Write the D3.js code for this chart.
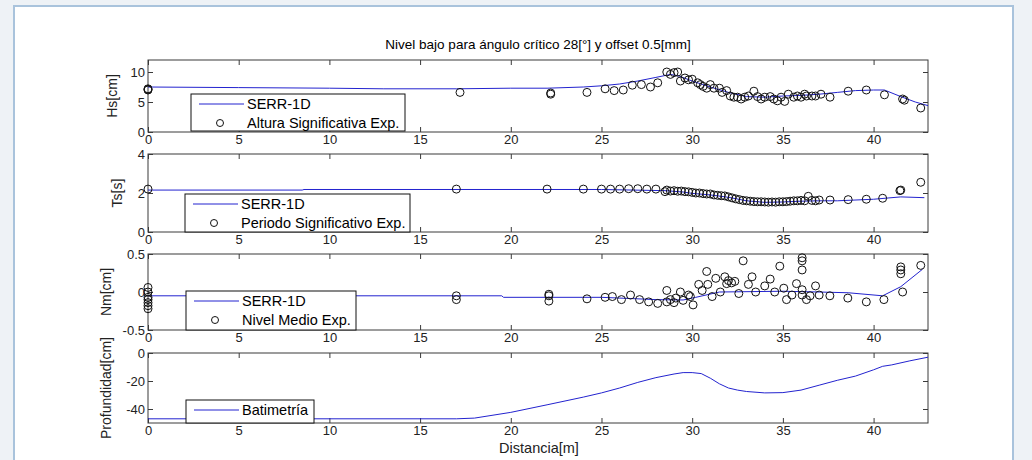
<!DOCTYPE html>
<html lang="es">
<head>
<meta charset="UTF-8">
<title>Nivel bajo para ángulo crítico 28</title>
<script src="https://d3js.org/d3.v7.min.js"></script>
<style>
  body { margin: 0; background: #eef2f6; }
  svg { display: block; }
  text { font-family: "Liberation Sans", Arial, sans-serif; }
</style>
</head>
<body>
<div id="chart"></div>
<script>
const width = 1032, height = 460;

// distance axis
const xDomain = [0, 43];
const xTicks = [0, 5, 10, 15, 20, 25, 30, 35, 40];

// Hs panel
const hsModel = [[0,7.5],[5,7.4],[10,7.3],[13,7.2],[17,7.2],[20,7.3],[22,7.3],[24,7.5],[25,7.7],[26,8.0],[27,8.5],[28,9.1],[28.8,9.6],[29.3,9.3],[30,8.5],[31,7.5],[32,6.6],[33,5.9],[34,5.8],[35,6.0],[36,6.1],[37,6.3],[38,6.6],[39,6.9],[40,7.0],[40.6,7.0],[41.5,5.9],[42.3,5.0],[43,4.4]];
const hsExp = [[0,7.0],[0,7.1],[0,7.2],[17.2,6.6],[22.2,6.3],[22.2,6.5],[24.2,6.6],[25.2,7.2],[25.7,6.9],[26.2,7.0],[26.7,7.8],[27.2,7.9],[27.7,7.5],[28.1,8.2],[28.6,10.0],[28.8,9.6],[29.0,9.9],[29.2,10.0],[29.35,8.5],[29.6,9.0],[29.8,8.7],[30.0,8.8],[30.3,8.2],[30.45,7.9],[30.6,7.6],[30.8,7.3],[31.0,7.9],[31.2,7.3],[31.5,7.3],[31.65,6.6],[31.9,6.9],[32.1,6.0],[32.3,5.8],[32.5,5.8],[32.7,5.5],[32.9,5.8],[33.1,6.0],[33.4,6.8],[33.6,5.9],[33.8,5.5],[34.0,5.8],[34.3,5.9],[34.5,5.5],[34.7,5.2],[34.9,5.8],[35.1,5.1],[35.3,6.3],[35.6,5.8],[35.8,6.0],[36.0,5.8],[36.2,6.3],[36.3,6.0],[36.6,6.0],[36.8,6.0],[37.1,6.3],[37.6,5.8],[38.6,6.8],[39.6,7.0],[40.6,6.2],[41.6,5.5],[41.7,5.3],[42.6,4.0]];

// Ts panel
const tsModel = [[0,2.15],[8.5,2.15],[8.6,2.18],[25,2.18],[28.5,2.12],[29.5,2.05],[30,1.98],[31,1.9],[32,1.78],[33,1.6],[34,1.52],[35,1.54],[36,1.58],[37,1.6],[38,1.6],[40,1.68],[41.5,1.8],[42.8,1.76]];
const tsExp = [[0,2.2],[17,2.2],[22,2.2],[24,2.2],[25,2.2],[25.5,2.2],[26,2.2],[26.5,2.22],[27,2.22],[27.5,2.2],[28,2.2],[28.5,2.07],[28.6,2.15],[28.8,2.1],[29.0,2.12],[29.2,2.09],[29.4,2.1],[29.6,2.07],[29.8,2.06],[30.0,2.03],[30.2,2.0],[30.4,2.0],[30.6,1.97],[30.8,1.95],[31.0,1.95],[31.2,1.9],[31.4,1.88],[31.6,1.86],[31.8,1.85],[32.0,1.8],[32.2,1.75],[32.4,1.7],[32.6,1.66],[32.8,1.62],[33.0,1.6],[33.2,1.58],[33.4,1.56],[33.6,1.55],[33.8,1.55],[34.0,1.54],[34.2,1.53],[34.4,1.54],[34.6,1.53],[34.8,1.55],[35.0,1.55],[35.2,1.56],[35.4,1.58],[35.6,1.6],[35.8,1.6],[36.0,1.62],[36.2,1.6],[36.4,1.83],[36.6,1.62],[36.8,1.6],[37.0,1.64],[37.6,1.64],[38.6,1.66],[39.6,1.68],[40.5,1.73],[41.45,2.12],[41.5,2.15],[42.6,2.55]];

// Nm panel
const nmModel = [[0,-0.05],[19.5,-0.05],[19.6,-0.07],[25,-0.07],[28,-0.1],[29.5,-0.105],[30.2,-0.07],[31.5,0],[35,0.01],[37,0],[38.6,-0.01],[40.5,-0.05],[41.5,0.07],[42.7,0.3]];
const nmExp = [[0,0.06],[0,0.0],[0,-0.07],[0,-0.1],[0,-0.14],[0,-0.18],[0,-0.22],[17,-0.05],[17,-0.1],[22.1,-0.03],[22.1,-0.05],[22.1,-0.12],[24.2,-0.09],[25.2,-0.07],[25.6,-0.06],[26.1,-0.1],[26.6,-0.04],[27.1,-0.1],[27.6,-0.13],[28.1,-0.15],[28.6,0.02],[28.6,-0.13],[28.8,-0.1],[29.0,-0.14],[29.1,-0.08],[29.35,0.0],[29.5,-0.11],[29.8,-0.04],[29.9,-0.06],[30.05,-0.17],[30.36,0.1],[30.55,0.02],[30.8,0.27],[30.86,0.1],[31.1,-0.06],[31.3,0.18],[31.55,0.0],[31.8,0.2],[31.9,0.11],[32.0,0.15],[32.17,0.12],[32.35,0.14],[32.57,-0.02],[32.81,0.41],[33.1,0.1],[33.3,0.2],[33.5,0.0],[34.0,0.08],[34.3,0.17],[34.55,0.0],[34.83,0.34],[35.05,0.05],[35.2,-0.1],[35.5,-0.04],[35.75,0.11],[36.06,0.45],[36.06,0.41],[36.06,0.29],[36.06,0.03],[36.06,-0.04],[36.3,-0.1],[36.5,-0.05],[36.8,0.08],[37.0,-0.04],[37.59,-0.05],[38.58,-0.08],[39.6,-0.13],[40.57,-0.1],[41.5,0.33],[41.5,0.29],[41.5,0.24],[41.6,0.0],[42.6,0.35]];

// bathymetry
const depthModel = [[0,-47],[17,-47],[18,-46.5],[20,-42.4],[22,-37],[24,-31.5],[25,-28.5],[26,-25],[27,-21],[28,-17.6],[29,-15],[29.5,-14],[30,-14],[30.5,-14.7],[31,-18],[31.5,-22],[32,-25],[32.5,-26.5],[33,-27.5],[34,-28.5],[35,-28.3],[36,-26.5],[37,-23],[38,-19.5],[39,-16.5],[40,-12],[40.5,-9.5],[41,-8.5],[42,-5.6],[43,-3]];

const panels = [
  { top: 60, bottom: 132, domain: [0, 12], ticks: [0, 5, 10], label: "Hs[cm]", labelX: 112,
    line: hsModel, pts: hsExp, names: ["SERR-1D", "Altura Significativa Exp."],
    legend: { x: 191, y: 94, w: 214, h: 37 } },
  { top: 154, bottom: 232, domain: [0, 4], ticks: [0, 2, 4], label: "Ts[s]", labelX: 117,
    line: tsModel, pts: tsExp, names: ["SERR-1D", "Periodo Significativo Exp."],
    legend: { x: 185, y: 194, w: 225, h: 38 } },
  { top: 254, bottom: 330, domain: [-0.5, 0.5], ticks: [-0.5, 0, 0.5], label: "Nm[cm]", labelX: 106,
    line: nmModel, pts: nmExp, names: ["SERR-1D", "Nivel Medio Exp."],
    legend: { x: 186, y: 291, w: 170, h: 39 } },
  { top: 353, bottom: 423, domain: [-50, 0], ticks: [-40, -20, 0], label: "Profundidad[cm]", labelX: 106,
    line: depthModel, pts: null, names: ["Batimetría"],
    legend: { x: 186, y: 400, w: 128, h: 23 } }
];

const svg = d3.select("#chart").append("svg")
  .attr("width", width).attr("height", height);

svg.append("rect").attr("width", width).attr("height", height).attr("fill", "#eef2f6");
svg.append("rect")
  .attr("x", 14).attr("y", 6).attr("width", 999).attr("height", 470)
  .attr("fill", "#fff").attr("stroke", "#a9c3dc").attr("stroke-width", 2);

const x = d3.scaleLinear().domain(xDomain).range([148, 928]);
const blue = "#2323cf";
const fmt = d => String(d);

svg.append("text")
  .attr("x", 538).attr("y", 49)
  .attr("text-anchor", "middle")
  .style("font-size", "13.5px")
  .text("Nivel bajo para ángulo crítico 28[°] y offset 0.5[mm]");

panels.forEach(p => {
  const y = d3.scaleLinear().domain(p.domain).range([p.bottom, p.top]);
  const g = svg.append("g");

  g.append("rect")
    .attr("x", x.range()[0]).attr("y", p.top)
    .attr("width", x.range()[1] - x.range()[0]).attr("height", p.bottom - p.top)
    .attr("fill", "#fff").attr("stroke", "#3a3a3a");

  const styleAxis = sel => {
    sel.select(".domain").remove();
    sel.selectAll("line").attr("stroke", "#3a3a3a");
    sel.selectAll("text").style("font-size", "13px").attr("fill", "#222")
      .style("font-family", "'Liberation Sans', Arial, sans-serif");
  };

  g.append("g").attr("transform", `translate(0,${p.bottom})`)
    .call(d3.axisBottom(x).tickValues(xTicks).tickFormat(fmt).tickSizeInner(-5).tickSizeOuter(0).tickPadding(3))
    .call(styleAxis);
  g.append("g").attr("transform", `translate(0,${p.top})`)
    .call(d3.axisTop(x).tickValues(xTicks).tickSizeInner(-5).tickSizeOuter(0).tickFormat(""))
    .call(styleAxis);
  g.append("g").attr("transform", `translate(${x.range()[0]},0)`)
    .call(d3.axisLeft(y).tickValues(p.ticks).tickFormat(fmt).tickSizeInner(-5).tickSizeOuter(0).tickPadding(3))
    .call(styleAxis);
  g.append("g").attr("transform", `translate(${x.range()[1]},0)`)
    .call(d3.axisRight(y).tickValues(p.ticks).tickSizeInner(-5).tickSizeOuter(0).tickFormat(""))
    .call(styleAxis);

  g.append("text")
    .attr("transform", `translate(${p.labelX},${(p.top + p.bottom) / 2}) rotate(-90)`)
    .attr("text-anchor", "middle")
    .attr("dy", "0.35em")
    .style("font-size", "14px")
    .attr("fill", "#222")
    .text(p.label);

  g.append("path")
    .datum(p.line)
    .attr("fill", "none")
    .attr("stroke", blue)
    .attr("stroke-width", 1)
    .attr("d", d3.line().x(d => x(d[0])).y(d => y(d[1])));

  if (p.pts) {
    g.append("g").selectAll("circle")
      .data(p.pts)
      .join("circle")
      .attr("cx", d => x(d[0]))
      .attr("cy", d => y(d[1]))
      .attr("r", 4)
      .attr("fill", "none")
      .attr("stroke", "#111")
      .attr("stroke-width", 1);
  }

  // legend
  const L = p.legend;
  const lg = g.append("g").attr("transform", `translate(${L.x},${L.y})`);
  lg.append("rect").attr("width", L.w).attr("height", L.h)
    .attr("fill", "#fff").attr("stroke", "#111");
  const rowH = 19;
  lg.append("line").attr("x1", 8).attr("x2", 53).attr("y1", 10).attr("y2", 10)
    .attr("stroke", blue);
  lg.append("text").attr("x", 56).attr("y", 10).attr("dy", "0.35em")
    .style("font-size", "14.5px").text(p.names[0]);
  if (p.names[1]) {
    lg.append("circle").attr("cx", 29).attr("cy", 10 + rowH).attr("r", 3.5)
      .attr("fill", "none").attr("stroke", "#111");
    lg.append("text").attr("x", 56).attr("y", 10 + rowH).attr("dy", "0.35em")
      .style("font-size", "14.5px").text(p.names[1]);
  }
});

svg.append("text")
  .attr("x", 539).attr("y", 448)
  .attr("text-anchor", "middle")
  .attr("dy", "0.35em")
  .style("font-size", "14.5px")
  .attr("fill", "#222")
  .text("Distancia[m]");
</script>
</body>
</html>
